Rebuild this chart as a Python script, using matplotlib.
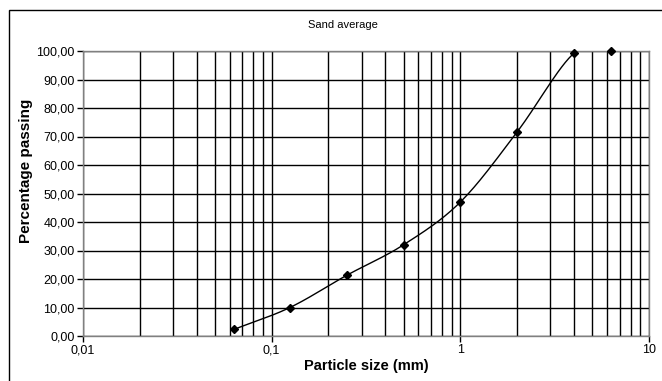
import numpy as np
import matplotlib
matplotlib.use("Agg")
from matplotlib import pyplot as plt
from matplotlib.ticker import FixedLocator, FuncFormatter, LogLocator, NullFormatter
from matplotlib.patches import Rectangle

# sieve sizes (mm) and cumulative percentage passing
sizes = [0.063, 0.125, 0.25, 0.5, 1.0, 2.0, 4.0, 6.3]
passing = [2.3, 10.0, 21.3, 32.0, 47.0, 71.6, 99.2, 100.0]

x_ticks = [0.01, 0.1, 1, 10]
x_tick_labels = ["0,01", "0,1", "1", "10"]
y_ticks = list(range(0, 101, 10))


def smooth(xs, ys, n=30):
    # catmull-rom through the points in log-x space, like a spreadsheet smoothed line
    lx = np.log10(xs)
    ys = np.asarray(ys, float)
    px = np.concatenate([[2 * lx[0] - lx[1]], lx, [2 * lx[-1] - lx[-2]]])
    py = np.concatenate([[2 * ys[0] - ys[1]], ys, [2 * ys[-1] - ys[-2]]])
    outx, outy = [], []
    t = np.linspace(0, 1, n)
    for i in range(1, len(px) - 2):
        for arr, out in ((px, outx), (py, outy)):
            p0, p1, p2, p3 = arr[i - 1], arr[i], arr[i + 1], arr[i + 2]
            out.extend(0.5 * (2 * p1 + (-p0 + p2) * t
                              + (2 * p0 - 5 * p1 + 4 * p2 - p3) * t ** 2
                              + (-p0 + 3 * p1 - 3 * p2 + p3) * t ** 3))
    return 10 ** np.array(outx), np.array(outy)


plt.rcParams["font.family"] = ["Liberation Sans", "DejaVu Sans"]

fig = plt.figure(figsize=(6.62, 3.81), dpi=100)
ax = fig.add_axes([83 / 662, 1 - 336 / 381, (649 - 83) / 662, (336 - 51) / 381])

ax.set_xscale("log")
ax.set_xlim(0.01, 10)
ax.set_ylim(0, 100)

ax.xaxis.set_major_locator(FixedLocator(x_ticks))
ax.xaxis.set_major_formatter(FuncFormatter(lambda v, p: x_tick_labels[x_ticks.index(v)] if v in x_ticks else ""))
ax.xaxis.set_minor_locator(LogLocator(base=10, subs=np.arange(2, 10)))
ax.xaxis.set_minor_formatter(NullFormatter())
ax.yaxis.set_major_locator(FixedLocator(y_ticks))
ax.yaxis.set_major_formatter(FuncFormatter(lambda v, p: f"{v:.2f}".replace(".", ",")))

ax.grid(True, which="major", color="black", linewidth=1.0)
ax.grid(True, which="minor", axis="x", color="black", linewidth=1.0)
ax.tick_params(which="major", direction="out", length=4, width=1, labelsize=9, pad=2)
ax.tick_params(which="minor", length=0)
for s in ax.spines.values():
    s.set_color("#808080")
    s.set_linewidth(1.0)

sx, sy = smooth(sizes, passing)
ax.plot(sx, sy, color="black", linewidth=1.0)
ax.plot(sizes, passing, linestyle="none", marker="D", markersize=4,
        color="black", clip_on=False, zorder=5)

ax.set_xlabel("Particle size (mm)", fontsize=10.5, fontweight="bold", labelpad=2)
ax.set_ylabel("Percentage passing", fontsize=11, fontweight="bold")
ax.yaxis.set_label_coords(-0.088, 0.579)
fig.text(343 / 662, 1 - 25 / 381, "Sand average", fontsize=8, ha="center", va="center")

fig.patches.append(Rectangle((9 / 662, -0.05), 1.0, 1 - 10 / 381 + 0.05,
                             transform=fig.transFigure, fill=False,
                             edgecolor="black", linewidth=1.0))

fig.savefig("out.png", dpi=100)
